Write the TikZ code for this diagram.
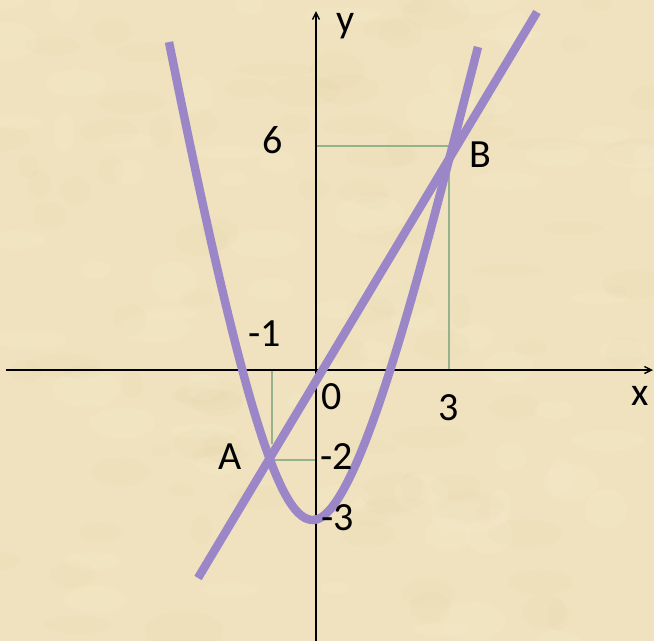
\documentclass[tikz,border=0pt]{standalone}
\usepackage{fontspec}
\setmainfont{Carlito}
\usetikzlibrary{arrows.meta}
\definecolor{paper}{RGB}{240,226,190}
\definecolor{paperdark}{RGB}{220,198,150}
\definecolor{paperlight}{RGB}{250,240,214}
\definecolor{curvecol}{RGB}{155,135,200}
\definecolor{guidecol}{RGB}{150,178,140}
\tikzset{
  axisline/.style={black, line width=1.4pt, -{Straight Barb[length=7pt,width=7pt]}},
  guideline/.style={guidecol, line width=1.5pt},
  graphline/.style={curvecol, line width=8.5pt},
  lbl/.style={font=\fontsize{40}{48}\selectfont, inner sep=0pt, text=black},
}
\begin{document}
\begin{tikzpicture}[x=1pt,y=-1pt]
\useasboundingbox (0,0) rectangle (654,641);
\fill[paper] (0,0) rectangle (654,641);
\pgfmathsetseed{11}
\foreach \i in {1,...,90}{
  \pgfmathsetmacro{\px}{rnd*654}
  \pgfmathsetmacro{\py}{rnd*641}
  \pgfmathsetmacro{\rx}{10+rnd*30}
  \pgfmathsetmacro{\ry}{6+rnd*14}
  \fill[paperdark, opacity=0.07] (\px,\py) ellipse ({\rx} and {\ry});
}
\foreach \i in {1,...,70}{
  \pgfmathsetmacro{\px}{rnd*654}
  \pgfmathsetmacro{\py}{rnd*641}
  \pgfmathsetmacro{\rx}{10+rnd*30}
  \pgfmathsetmacro{\ry}{6+rnd*14}
  \fill[paperlight, opacity=0.15] (\px,\py) ellipse ({\rx} and {\ry});
}
% key points
\coordinate (O) at (316,370);
\coordinate (xl) at (6,370);
\coordinate (xr) at (653,370);
\coordinate (yb) at (316,641);
\coordinate (yt) at (316,11);
\coordinate (A) at (270,460);
\coordinate (B) at (449,146);
\coordinate (y6) at (316,146);
\coordinate (x3) at (449,370);
\coordinate (xm1) at (272,370);
\coordinate (ym2) at (316,460);
\coordinate (Ltop) at (537,12);
\coordinate (Lbot) at (198,578);
\coordinate (Ptl) at (169,42);
\coordinate (V) at (313,520);
\coordinate (Ptr) at (478,47);
% guides
\draw[guideline] (y6) -- (B) -- (x3);
\draw[guideline] (xm1) -- (272,444);
\draw[guideline] (272,460) -- (ym2);
% axes
\draw[axisline] (xl) -- (xr);
\draw[axisline] (yb) -- (yt);
% graphs
\draw[graphline] (Lbot) -- (Ltop);
\draw[graphline] (Ptl) .. controls (248,436) and (283,520) .. (V)
  .. controls (360,520) and (427,245) .. (Ptr);
% labels
\node[lbl] (ly) at (346,26) {y};
\node[lbl] (lx) at (640,396) {x};
\node[lbl] (l6) at (273,140) {6};
\node[lbl] (lB) at (480,155) {B};
\node[lbl] (lm1) at (265,334) {-1};
\node[lbl] (l0) at (332,397) {0};
\node[lbl] (l3) at (449,408) {3};
\node[lbl] (lA) at (230,457) {A};
\node[lbl] (lm2) at (337,457) {-2};
\node[lbl] (lm3) at (338,518) {-3};
\end{tikzpicture}
\end{document}
